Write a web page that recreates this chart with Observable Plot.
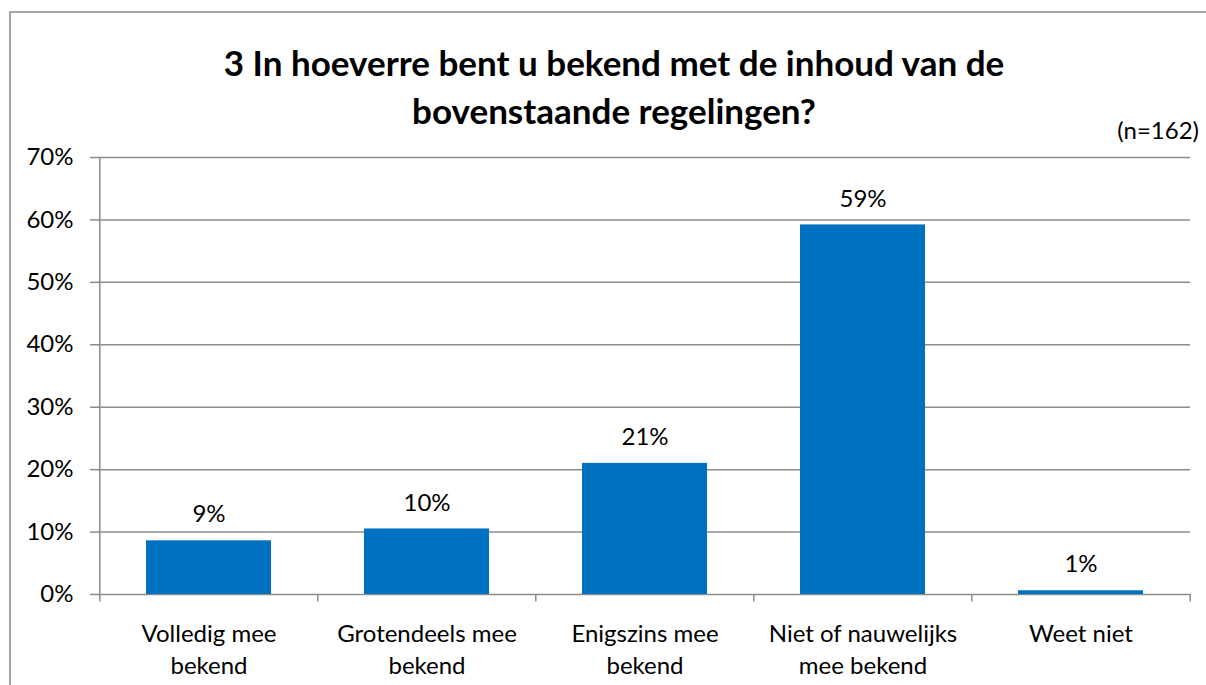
<!DOCTYPE html>
<html>
<head>
<meta charset="utf-8">
<script src="https://cdn.jsdelivr.net/npm/d3@7"></script>
<script src="https://cdn.jsdelivr.net/npm/@observablehq/plot@0.6"></script>
<style>
  html, body { margin: 0; padding: 0; background: #fff; overflow: hidden; }
  #wrap { position: relative; width: 1206px; height: 685px; overflow: hidden; font-family: Lato, "Open Sans", sans-serif; color: #000; }
  #border { position: absolute; left: 9px; top: 11px; width: 1400px; height: 900px; border: 2px solid #a6a6a6; box-sizing: border-box; }
  #chart { position: absolute; left: 0; top: 140px; }
  #title { position: absolute; left: 0; width: 1228px; top: 38px; text-align: center; font-weight: bold; font-size: 35px; line-height: 48px; white-space: nowrap; }
  #n { position: absolute; right: 7px; top: 118px; font-size: 24px; line-height: 24px; }
  #chart svg { background: transparent !important; }
</style>
</head>
<body>
<div id="wrap">
  <div id="border"></div>
  <div id="chart"></div>
  <div id="title">3 In hoeverre bent u bekend met de inhoud van de<br>bovenstaande regelingen?</div>
  <div id="n">(n=162)</div>
</div>
<script>
const categories = ["Volledig mee bekend", "Grotendeels mee bekend", "Enigszins mee bekend", "Niet of nauwelijks mee bekend", "Weet niet"];
const tickLabels = ["Volledig mee\nbekend", "Grotendeels mee\nbekend", "Enigszins mee\nbekend", "Niet of nauwelijks\nmee bekend", "Weet niet"];
const values = [0.086, 0.105, 0.210, 0.592, 0.006];
const valueLabels = ["9%", "10%", "21%", "59%", "1%"];
const yTicks = [0, 0.1, 0.2, 0.3, 0.4, 0.5, 0.6, 0.7];

const data = categories.map((c, i) => ({cat: c, value: values[i], label: valueLabels[i], tick: tickLabels[i]}));

const W = 1206, H = 545, ML = 98, MR = 16;
const half = (W - ML - MR) / categories.length / 2;
const grid = "#8c8c8c";
const fontFamily = "Lato, 'Open Sans', sans-serif";

const chart = Plot.plot({
  width: W,
  height: H,
  marginTop: 17,
  marginBottom: 91,
  marginLeft: ML,
  marginRight: MR,
  style: {fontFamily, fontSize: "24px", color: "#000", background: "transparent", overflow: "visible"},
  x: {domain: categories, paddingInner: 0.428, paddingOuter: 0.214, label: null},
  y: {domain: [0, 0.7], label: null},
  marks: [
    Plot.gridY(yTicks, {stroke: grid, strokeOpacity: 1, strokeWidth: 1.5}),
    Plot.axisY(yTicks, {tickFormat: d3.format(".0%"), tickSize: 8, tickPadding: 17, stroke: grid, strokeWidth: 1.5, fontSize: 24, label: null}),
    Plot.ruleX([categories[0]], {dx: -half, y1: 0, y2: 0.7, stroke: grid, strokeWidth: 1.5}),
    Plot.ruleX(categories, {dx: -half, y1: 0, y2: -0.012, stroke: grid, strokeWidth: 1.5}),
    Plot.ruleX([categories[categories.length - 1]], {dx: half, y1: 0, y2: -0.012, stroke: grid, strokeWidth: 1.5}),
    Plot.barY(data, {x: "cat", y: "value", fill: "#0070C0"}),
    Plot.text(data, {x: "cat", y: "value", text: "label", dy: -26, fontSize: 24, fill: "#000"}),
    Plot.text(data, {x: "cat", y: 0, text: "tick", dy: 25, lineAnchor: "top", lineHeight: 1.333, fontSize: 24, fill: "#000"}),
    Plot.axisX({ticks: [], label: null})
  ]
});
document.getElementById("chart").appendChild(chart);
</script>
</body>
</html>
